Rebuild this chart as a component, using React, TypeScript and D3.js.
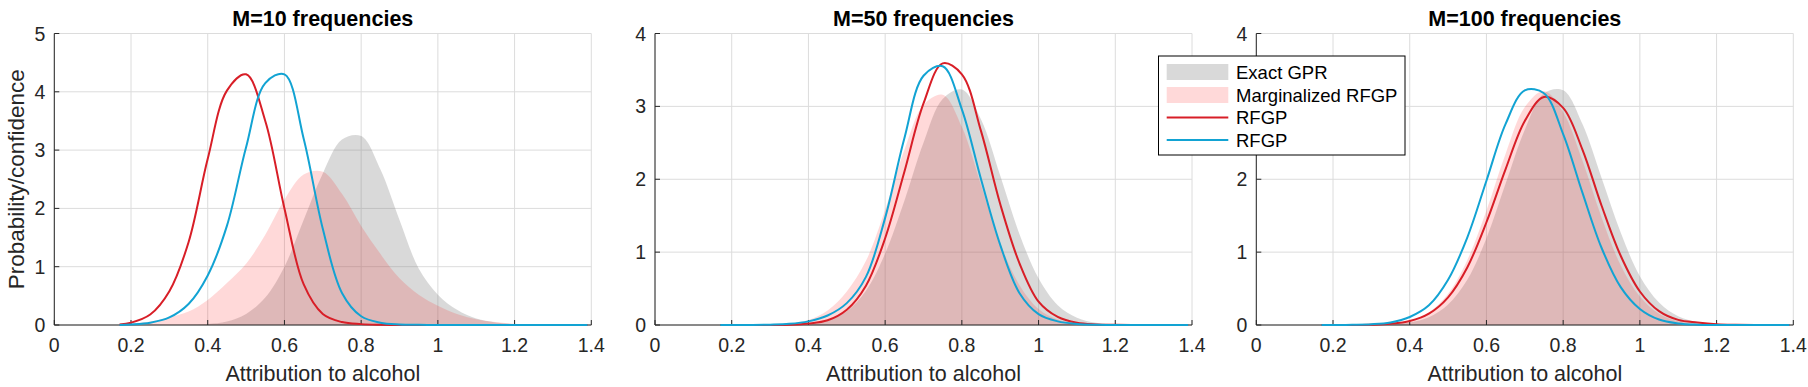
import React from 'react';
import * as d3 from 'd3';

// sample positions (attribution to alcohol)
const xs = [0.17, 0.2, 0.25, 0.3, 0.35, 0.4, 0.45, 0.5, 0.55, 0.6, 0.65, 0.7, 0.75, 0.8, 0.85, 0.9, 0.95, 1.0, 1.05, 1.1, 1.15, 1.2, 1.25, 1.3, 1.35, 1.39];

// M=10
const exactM10 = [0, 0, 0.001, 0.002, 0.005, 0.017, 0.06, 0.19, 0.47, 1.0, 1.8, 2.6, 3.18, 3.24, 2.67, 1.8, 0.97, 0.52, 0.26, 0.11, 0.045, 0.015, 0.005, 0.001, 0, 0];
const margM10 = [0.01, 0.025, 0.06, 0.13, 0.23, 0.43, 0.72, 1.05, 1.55, 2.15, 2.58, 2.63, 2.25, 1.7, 1.22, 0.8, 0.52, 0.33, 0.19, 0.1, 0.05, 0.02, 0.007, 0.002, 0, 0];
const redM10 = [0.01, 0.04, 0.18, 0.58, 1.42, 2.85, 4.02, 4.3, 3.5, 2.0, 0.7, 0.19, 0.05, 0.015, 0.004, 0.001, 0, 0, 0, 0, 0, 0, 0, 0, 0, 0];
const blueM10 = [0.002, 0.01, 0.04, 0.13, 0.36, 0.85, 1.7, 3.05, 4.15, 4.3, 3.2, 1.65, 0.55, 0.15, 0.04, 0.01, 0.003, 0.001, 0, 0, 0, 0, 0, 0, 0, 0];

// M=50
const exactM50 = [0, 0, 0, 0.001, 0.004, 0.018, 0.065, 0.19, 0.47, 0.98, 1.7, 2.5, 3.1, 3.23, 2.82, 2.05, 1.25, 0.64, 0.27, 0.1, 0.03, 0.008, 0.002, 0, 0, 0];
const margM50 = [0, 0, 0.002, 0.006, 0.02, 0.07, 0.2, 0.46, 0.88, 1.58, 2.4, 3.02, 3.16, 2.72, 1.92, 1.12, 0.55, 0.22, 0.075, 0.022, 0.006, 0.001, 0, 0, 0, 0];
const redM50 = [0, 0, 0, 0.001, 0.004, 0.02, 0.065, 0.21, 0.54, 1.19, 2.1, 3.04, 3.59, 3.44, 2.66, 1.66, 0.85, 0.32, 0.11, 0.03, 0.008, 0.002, 0, 0, 0, 0];
const blueM50 = [0, 0, 0.001, 0.005, 0.016, 0.05, 0.13, 0.3, 0.66, 1.47, 2.56, 3.42, 3.55, 2.96, 2.0, 1.1, 0.44, 0.15, 0.05, 0.015, 0.004, 0.001, 0, 0, 0, 0];

// M=100
const exactM100 = [0, 0, 0.001, 0.002, 0.009, 0.034, 0.105, 0.28, 0.62, 1.19, 1.94, 2.68, 3.18, 3.22, 2.76, 2.02, 1.27, 0.67, 0.31, 0.12, 0.039, 0.011, 0.003, 0.001, 0, 0];
const margM100 = [0, 0, 0.001, 0.004, 0.017, 0.06, 0.175, 0.43, 0.89, 1.57, 2.35, 2.99, 3.21, 2.92, 2.26, 1.48, 0.82, 0.39, 0.155, 0.052, 0.015, 0.004, 0.001, 0, 0, 0];
const redM100 = [0, 0, 0.001, 0.004, 0.017, 0.055, 0.156, 0.38, 0.79, 1.41, 2.14, 2.8, 3.13, 2.98, 2.41, 1.64, 0.95, 0.46, 0.19, 0.07, 0.035, 0.012, 0.004, 0.001, 0, 0];
const blueM100 = [0, 0, 0.003, 0.01, 0.035, 0.11, 0.27, 0.62, 1.2, 1.98, 2.76, 3.22, 3.18, 2.62, 1.82, 1.06, 0.52, 0.22, 0.075, 0.022, 0.005, 0.001, 0, 0, 0, 0];

const titles = ['M=10 frequencies', 'M=50 frequencies', 'M=100 frequencies'];
const xTicks = [0, 0.2, 0.4, 0.6, 0.8, 1, 1.2, 1.4];
const xTickLabels = ['0', '0.2', '0.4', '0.6', '0.8', '1', '1.2', '1.4'];
const yMaxes = [5, 4, 4];
const legendLabels = ['Exact GPR', 'Marginalized RFGP', 'RFGP', 'RFGP'];

const FONT = '"Liberation Sans", Arial, Helvetica, sans-serif';
const INK = '#262626';
const RED = '#d81e27';
const BLUE = '#12a3d3';

const panelLefts = [54.3, 655, 1256.3];
const plotW = 537;
const plotTop = 33.5;
const plotBottom = 325;

// legend box
const LB = { x: 1158.5, y: 56, w: 246.5, h: 99 };

type Pt = [number, number];

function Panel(props: any) {
  const { idx, exact, marg, red, blue } = props;
  const left = panelLefts[idx];
  const yMax = yMaxes[idx];
  const x = d3.scaleLinear().domain([0, 1.4]).range([left, left + plotW]);
  const y = d3.scaleLinear().domain([0, yMax]).range([plotBottom, plotTop]);
  const yTicks = d3.range(0, yMax + 1);
  const pts = (vals: number[]): Pt[] => xs.map((v, i) => [v, vals[i]] as Pt);
  const curve = d3.curveCatmullRom.alpha(0.5);
  const area = d3.area<Pt>().x(d => x(d[0])).y0(y(0)).y1(d => y(d[1])).curve(curve);
  const line = d3.line<Pt>().x(d => x(d[0])).y(d => y(d[1])).curve(curve);
  const hidden = (px: number, py: number) => px > LB.x && px < LB.x + LB.w && py > LB.y && py < LB.y + LB.h;

  return (
    <g>
      {/* grid */}
      {xTicks.map(t => (
        <line key={'gx' + t} x1={x(t)} x2={x(t)} y1={plotTop} y2={plotBottom} stroke="#dcdcdc" strokeWidth={1} />
      ))}
      {yTicks.map(t => (
        <line key={'gy' + t} x1={x(0)} x2={x(1.4)} y1={y(t)} y2={y(t)} stroke="#dcdcdc" strokeWidth={1} />
      ))}

      <path d={area(pts(exact)) || ''} fill="rgb(128,128,128)" fillOpacity={0.3} />
      <path d={area(pts(marg)) || ''} fill="rgb(255,0,0)" fillOpacity={0.15} />

      {/* axes */}
      <line x1={x(0)} x2={x(1.4)} y1={plotBottom} y2={plotBottom} stroke={INK} strokeWidth={1} />
      <line x1={x(0)} x2={x(0)} y1={plotTop} y2={plotBottom} stroke={INK} strokeWidth={1} />
      {xTicks.map(t => (
        <line key={'tx' + t} x1={x(t)} x2={x(t)} y1={plotBottom} y2={plotBottom - 5} stroke={INK} strokeWidth={1} />
      ))}
      {yTicks.map(t => (
        <line key={'ty' + t} x1={x(0)} x2={x(0) + 5} y1={y(t)} y2={y(t)} stroke={INK} strokeWidth={1} />
      ))}

      <path d={line(pts(red)) || ''} fill="none" stroke={RED} strokeWidth={2} />
      <path d={line(pts(blue)) || ''} fill="none" stroke={BLUE} strokeWidth={2} />

      {xTicks.map((t, i) => (
        <text key={'lx' + t} x={x(t)} y={352} textAnchor="middle" fontSize={19.5} fill={INK} fontFamily={FONT}>{xTickLabels[i]}</text>
      ))}
      {yTicks.filter(t => !hidden(x(0) - 15, y(t))).map(t => (
        <text key={'ly' + t} x={x(0) - 9} y={y(t) + 7} textAnchor="end" fontSize={19.5} fill={INK} fontFamily={FONT}>{t}</text>
      ))}

      <text x={x(0.7)} y={381} textAnchor="middle" fontSize={21.5} fill={INK} fontFamily={FONT}>Attribution to alcohol</text>
      <text x={x(0.7)} y={26} textAnchor="middle" fontSize={21.5} fontWeight="bold" fill="#000" fontFamily={FONT}>{titles[idx]}</text>
      {idx === 0 && (
        <text transform={`translate(23.5,${(plotTop + plotBottom) / 2}) rotate(-90)`} textAnchor="middle" fontSize={22.5} fill={INK} fontFamily={FONT}>Probability/confidence</text>
      )}
    </g>
  );
}

function Legend() {
  const rowY = [72, 95, 117.5, 140];
  const sx0 = 1166.7, sx1 = 1228.3;
  return (
    <g>
      <rect x={LB.x} y={LB.y} width={LB.w} height={LB.h} fill="#fff" stroke="#000" strokeWidth={1} />
      <rect x={sx0} y={rowY[0] - 8} width={sx1 - sx0} height={16} fill="rgb(128,128,128)" fillOpacity={0.3} />
      <rect x={sx0} y={rowY[1] - 8} width={sx1 - sx0} height={16} fill="rgb(255,0,0)" fillOpacity={0.15} />
      <line x1={sx0} x2={sx1} y1={rowY[2]} y2={rowY[2]} stroke={RED} strokeWidth={2} />
      <line x1={sx0} x2={sx1} y1={rowY[3]} y2={rowY[3]} stroke={BLUE} strokeWidth={2} />
      {legendLabels.map((l, i) => (
        <text key={i} x={1236} y={rowY[i] + 6.5} fontSize={18.5} fill="#000" fontFamily={FONT}>{l}</text>
      ))}
    </g>
  );
}

export default function App() {
  return (
    <svg width={1808} height={387} style={{ position: 'absolute', left: 0, top: 0, background: '#fff' }}>
      <rect width={1808} height={387} fill="#fff" />
      <Panel idx={0} exact={exactM10} marg={margM10} red={redM10} blue={blueM10} />
      <Panel idx={1} exact={exactM50} marg={margM50} red={redM50} blue={blueM50} />
      <Panel idx={2} exact={exactM100} marg={margM100} red={redM100} blue={blueM100} />
      <Legend />
    </svg>
  );
}
